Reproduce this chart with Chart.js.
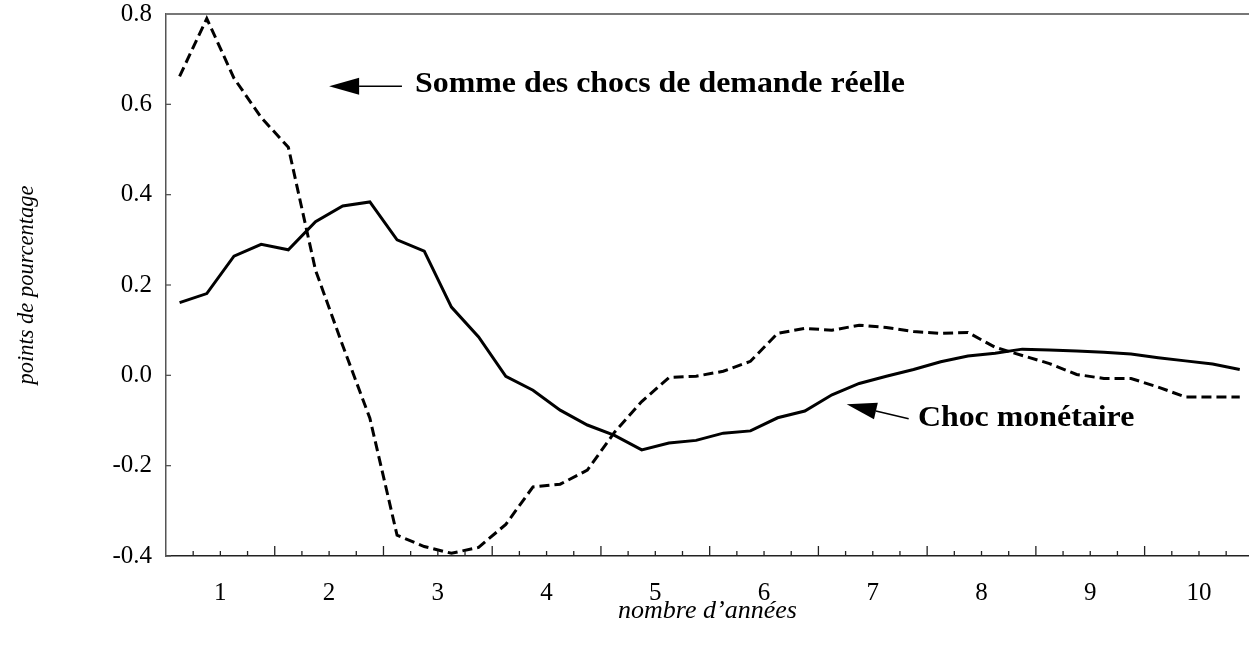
<!DOCTYPE html>
<html>
<head>
<meta charset="utf-8">
<script src="https://cdn.jsdelivr.net/npm/chart.js@4"></script>
<style>
  html, body { margin: 0; padding: 0; background: #fff; }
  #wrap { width: 1249px; height: 649px; }
</style>
</head>
<body>
<div id="wrap"><canvas id="chart"></canvas></div>
<script>
// années (étiquettes de l'axe des x), données trimestrielles
var annees = [1, 2, 3, 4, 5, 6, 7, 8, 9, 10];

var sommeDemande = [0.662, 0.79, 0.658, 0.571, 0.505, 0.233, 0.066, -0.095, -0.354, -0.379,
	-0.394, -0.381, -0.33, -0.247, -0.241, -0.21, -0.126, -0.058, -0.005, -0.002,
	0.009, 0.031, 0.093, 0.104, 0.1, 0.111, 0.106, 0.097, 0.093, 0.095,
	0.062, 0.044, 0.026, 0.002, -0.007, -0.007, -0.026, -0.048, -0.048, -0.048];

var chocMonetaire = [0.161, 0.181, 0.264, 0.29, 0.278, 0.34, 0.375, 0.384, 0.30, 0.275,
	0.151, 0.085, -0.002, -0.033, -0.077, -0.11, -0.133, -0.165, -0.15, -0.144,
	-0.128, -0.123, -0.094, -0.079, -0.043, -0.018, -0.002, 0.013, 0.03, 0.043,
	0.049, 0.058, 0.056, 0.054, 0.051, 0.047, 0.039, 0.032, 0.025, 0.013];

var yTicks = [-0.4, -0.2, 0.0, 0.2, 0.4, 0.6, 0.8];

// point au milieu de chaque trimestre
function toPoints(values) {
	return values.map(function(v, i) { return { x: (i + 0.5) / 4, y: v }; });
}

var serif = '"Liberation Serif", "DejaVu Serif", serif';

// petites marques vers l'intérieur + bord du haut
var axesTicks = {
	id: 'axesTicks',
	afterDatasetsDraw: function(chart) {
		var ctx = chart.ctx, a = chart.chartArea, x = chart.scales.x, y = chart.scales.y;
		ctx.save();
		ctx.strokeStyle = '#222';
		ctx.lineWidth = 1.3;
		for (var q = 1; q <= annees.length * 4; q++) {
			var px = x.getPixelForValue(q / 4);
			if (px > a.right) break;
			var len = (q % 4 === 0) ? 10 : 5;
			ctx.beginPath();
			ctx.moveTo(px, a.bottom);
			ctx.lineTo(px, a.bottom - len);
			ctx.stroke();
		}
		ctx.strokeStyle = '#555';
		yTicks.forEach(function(v) {
			var py = y.getPixelForValue(v);
			ctx.beginPath();
			ctx.moveTo(a.left, py);
			ctx.lineTo(a.left + 5, py);
			ctx.stroke();
		});
		// bord du haut
		ctx.strokeStyle = '#777';
		ctx.lineWidth = 2;
		ctx.beginPath();
		ctx.moveTo(a.left, a.top);
		ctx.lineTo(a.right, a.top);
		ctx.stroke();
		ctx.restore();
	}
};

// flèches + textes
var annotations = {
	id: 'annotations',
	afterDraw: function(chart) {
		var ctx = chart.ctx, x = chart.scales.x, y = chart.scales.y;
		function arrow(x0, y0, x1, y1) {
			var ax = x.getPixelForValue(x0), ay = y.getPixelForValue(y0);
			var bx = x.getPixelForValue(x1), by = y.getPixelForValue(y1);
			var ang = Math.atan2(by - ay, bx - ax);
			var hl = 30, hw = 8.5;
			var cx = bx - hl * Math.cos(ang), cy = by - hl * Math.sin(ang);
			ctx.beginPath();
			ctx.moveTo(ax, ay);
			ctx.lineTo(cx, cy);
			ctx.stroke();
			ctx.beginPath();
			ctx.moveTo(bx, by);
			ctx.lineTo(cx + hw * Math.sin(ang), cy - hw * Math.cos(ang));
			ctx.lineTo(cx - hw * Math.sin(ang), cy + hw * Math.cos(ang));
			ctx.closePath();
			ctx.fill();
		}
		function label(text, vx, vy) {
			ctx.save();
			ctx.translate(x.getPixelForValue(vx), y.getPixelForValue(vy));
			ctx.scale(1.063, 1);
			ctx.fillText(text, 0, 0);
			ctx.restore();
		}
		ctx.save();
		ctx.strokeStyle = '#000';
		ctx.fillStyle = '#000';
		ctx.lineWidth = 1.5;
		arrow(2.17, 0.64, 1.5, 0.64);
		arrow(6.83, -0.096, 6.26, -0.064);
		ctx.font = 'bold 30px ' + serif;
		ctx.textBaseline = 'middle';
		ctx.textAlign = 'left';
		label('Somme des chocs de demande réelle', 2.29, 0.645);
		label('Choc monétaire', 6.915, -0.095);
		ctx.restore();
	}
};

new Chart(document.getElementById('chart'), {
	type: 'line',
	data: {
		datasets: [{
			label: 'Somme des chocs de demande réelle',
			data: toPoints(sommeDemande),
			borderColor: '#000',
			borderWidth: 3,
			borderDash: [10, 5],
			pointRadius: 0,
			tension: 0,
			fill: false
		}, {
			label: 'Choc monétaire',
			data: toPoints(chocMonetaire),
			borderColor: '#000',
			borderWidth: 3,
			pointRadius: 0,
			tension: 0,
			fill: false
		}]
	},
	options: {
		responsive: true,
		maintainAspectRatio: false,
		animation: false,
		layout: { padding: { top: 14, right: 0, left: 0, bottom: 0 } },
		plugins: {
			legend: { display: false },
			tooltip: { enabled: false }
		},
		scales: {
			x: {
				type: 'linear',
				min: 0,
				max: 9.96,
				afterBuildTicks: function(scale) {
					scale.ticks = annees.map(function(n) { return { value: n - 0.5 }; });
				},
				afterFit: function(scale) {
					scale.height = 93;
					scale.paddingLeft = 0;
					scale.paddingRight = 0;
				},
				ticks: {
					autoSkip: false,
					maxRotation: 0,
					padding: 22,
					color: '#000',
					font: { family: serif, size: 25 },
					callback: function(v) { return String(Math.round(v + 0.5)); }
				},
				grid: { display: false, drawTicks: false },
				border: { display: true, color: '#222', width: 1.5 },
				title: {
					display: true,
					text: 'nombre d\u2019années',
					color: '#000',
					font: { family: serif, size: 26, style: 'italic' },
					padding: { top: 0, bottom: 22 }
				}
			},
			y: {
				min: -0.4,
				max: 0.8,
				afterBuildTicks: function(scale) {
					scale.ticks = yTicks.map(function(v) { return { value: v }; });
				},
				afterFit: function(scale) {
					scale.width = 166;
					scale.paddingTop = 0;
					scale.paddingBottom = 0;
				},
				ticks: {
					padding: 14,
					color: '#000',
					font: { family: serif, size: 25 },
					callback: function(v) { return v.toFixed(1); }
				},
				grid: { display: false, drawTicks: false },
				border: { display: true, color: '#555', width: 1.5 },
				title: {
					display: true,
					text: 'points de pourcentage',
					color: '#000',
					font: { family: serif, size: 22.5, style: 'italic' },
					padding: { top: 14, bottom: 0 }
				}
			}
		}
	},
	plugins: [axesTicks, annotations]
});
</script>
</body>
</html>
